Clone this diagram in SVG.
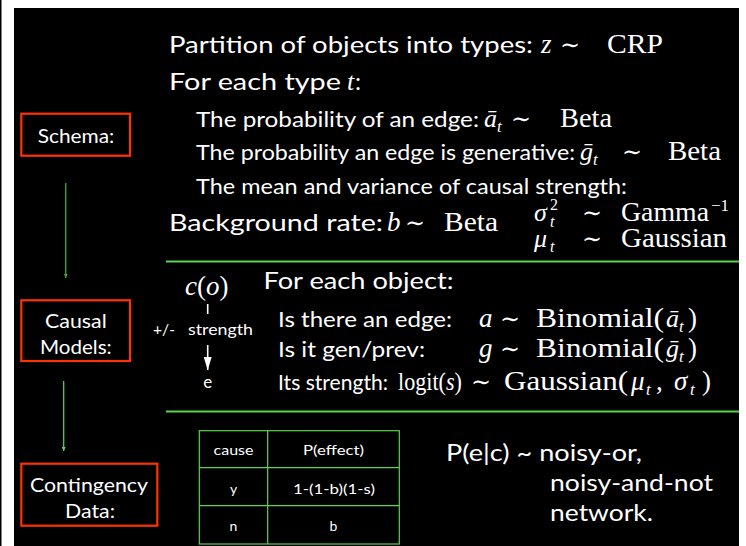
<svg xmlns="http://www.w3.org/2000/svg" width="746" height="546" viewBox="0 0 746 546">
<style>
.s{font-family:Lato,"Open Sans","DejaVu Sans",sans-serif;fill:#fff}
.m{font-family:"Liberation Serif","DejaVu Serif",serif;fill:#fff}
.i{font-style:italic}
.box{fill:none;stroke:#ff3300;stroke-width:2.2}
.rule{stroke:#5bd34a;stroke-width:2}
.tb{fill:none;stroke:#5bd34a;stroke-width:1.2}
</style>
<defs>
<marker id="ga" viewBox="0 0 6 6" refX="6" refY="3" markerWidth="4" markerHeight="4" orient="auto" markerUnits="userSpaceOnUse">
<path d="M0,0 L6,3 L0,6 Z" fill="context-stroke"/>
</marker>
<marker id="wa" viewBox="0 0 13 8" refX="13" refY="4" markerWidth="13" markerHeight="8" orient="auto" markerUnits="userSpaceOnUse">
<path d="M0,0 L13,4 L0,8 Z" fill="#fff"/>
</marker>
</defs>
<rect width="746" height="546" fill="#fff"/>
<rect x="0" y="0" width="1.5" height="546" fill="#000"/>
<rect x="14" y="8" width="725" height="538" fill="#000"/>

<g id="schema">
<rect class="box" x="21.3" y="113.7" width="108.7" height="42"/>
<text class="s" x="37.7" y="143" font-size="20" textLength="76.6" lengthAdjust="spacingAndGlyphs">Schema:</text>
</g>
<g id="causal-models">
<rect class="box" x="21.3" y="300.3" width="108.7" height="60.7"/>
<text class="s" x="45" y="328" font-size="20" textLength="61.7" lengthAdjust="spacingAndGlyphs">Causal</text>
<text class="s" x="40" y="354" font-size="20" textLength="71.7" lengthAdjust="spacingAndGlyphs">Models:</text>
</g>
<g id="contingency-data">
<rect class="box" x="21.3" y="463.7" width="136" height="62"/>
<text class="s" x="30" y="492" font-size="20" textLength="118" lengthAdjust="spacingAndGlyphs">Contingency</text>
<text class="s" x="65" y="518" font-size="20" textLength="50" lengthAdjust="spacingAndGlyphs">Data:</text>
</g>

<g id="connectors">
<line x1="65.7" y1="183" x2="65.7" y2="278" stroke="#3a9a3a" stroke-width="1.5" marker-end="url(#ga)"/>
<line x1="63.7" y1="381" x2="63.7" y2="451" stroke="#55dd55" stroke-width="1.2" marker-end="url(#ga)"/>
<line x1="207.7" y1="304" x2="207.7" y2="314" stroke="#fff" stroke-width="1.6"/>
<line x1="207.7" y1="345" x2="207.7" y2="370" stroke="#fff" stroke-width="1.6" marker-end="url(#wa)"/>
</g>

<!-- Schema section -->
<text class="s" x="169" y="53" font-size="24" textLength="364" lengthAdjust="spacingAndGlyphs">Partition of objects into types:</text>
<text class="m i" x="541" y="53" font-size="27">z</text>
<text class="m" x="560" y="53" font-size="24">∼</text>
<text class="m" x="607" y="53" font-size="28" textLength="56" lengthAdjust="spacingAndGlyphs">CRP</text>

<text class="s" x="169" y="90" font-size="24" textLength="172" lengthAdjust="spacingAndGlyphs">For each type</text>
<text class="m i" x="347" y="90" font-size="26">t</text>
<text class="s" x="355" y="90" font-size="24">:</text>

<text class="s" x="196" y="127" font-size="21" textLength="283" lengthAdjust="spacingAndGlyphs">The probability of an edge:</text>
<text class="m i" x="484" y="127" font-size="26">ā</text>
<text class="m i" x="497" y="132" font-size="17">t</text>
<text class="m" x="511" y="127" font-size="24">∼</text>
<text class="m" x="560" y="127" font-size="27" textLength="52" lengthAdjust="spacingAndGlyphs">Beta</text>

<text class="s" x="196" y="160" font-size="21" textLength="379" lengthAdjust="spacingAndGlyphs">The probability an edge is generative:</text>
<text class="m i" x="580" y="160" font-size="26">ḡ</text>
<text class="m i" x="593" y="165" font-size="17">t</text>
<text class="m" x="622" y="160" font-size="24">∼</text>
<text class="m" x="668" y="160" font-size="27" textLength="53" lengthAdjust="spacingAndGlyphs">Beta</text>

<text class="s" x="196" y="194" font-size="21" textLength="431" lengthAdjust="spacingAndGlyphs">The mean and variance of causal strength:</text>

<text class="s" x="169" y="231" font-size="24" textLength="214" lengthAdjust="spacingAndGlyphs">Background rate:</text>
<text class="m i" x="387" y="231" font-size="27">b</text>
<text class="m" x="405" y="231" font-size="24">∼</text>
<text class="m" x="444" y="231" font-size="27" textLength="54" lengthAdjust="spacingAndGlyphs">Beta</text>

<text class="m i" x="534" y="221" font-size="26">σ</text>
<text class="m" x="550" y="210" font-size="16">2</text>
<text class="m i" x="550" y="227" font-size="16">t</text>
<text class="m" x="582" y="221" font-size="24">∼</text>
<text class="m" x="621" y="221" font-size="27" textLength="88" lengthAdjust="spacingAndGlyphs">Gamma</text>
<text class="m" x="711" y="211" font-size="17">−1</text>

<text class="m i" x="534" y="247" font-size="26">μ</text>
<text class="m i" x="550" y="252" font-size="16">t</text>
<text class="m" x="582" y="247" font-size="24">∼</text>
<text class="m" x="621" y="247" font-size="27" textLength="106" lengthAdjust="spacingAndGlyphs">Gaussian</text>

<line class="rule" x1="166" y1="261.5" x2="739" y2="261.5"/>

<!-- Causal models section -->
<text class="m" x="185" y="295" font-size="27"><tspan class="i">c</tspan>(<tspan class="i">o</tspan>)</text>
<text class="s" x="153" y="335" font-size="15" textLength="22" lengthAdjust="spacingAndGlyphs">+/-</text>
<text class="s" x="188" y="335" font-size="15" textLength="65" lengthAdjust="spacingAndGlyphs">strength</text>
<text class="s" x="207.7" y="388" font-size="17" text-anchor="middle">e</text>

<text class="s" x="263.5" y="289" font-size="24" textLength="190" lengthAdjust="spacingAndGlyphs">For each object:</text>

<text class="s" x="278" y="327" font-size="21" textLength="174" lengthAdjust="spacingAndGlyphs">Is there an edge:</text>
<text class="m i" x="479" y="327" font-size="27">a</text>
<text class="m" x="500" y="327" font-size="24">∼</text>
<text class="m" x="536" y="327" font-size="27" textLength="128" lengthAdjust="spacingAndGlyphs">Binomial(</text>
<text class="m i" x="666" y="327" font-size="26">ā</text>
<text class="m i" x="679" y="332" font-size="17">t</text>
<text class="m" x="688" y="327" font-size="27">)</text>

<text class="s" x="278" y="357" font-size="21" textLength="147" lengthAdjust="spacingAndGlyphs">Is it gen/prev:</text>
<text class="m i" x="479" y="357" font-size="27">g</text>
<text class="m" x="500" y="357" font-size="24">∼</text>
<text class="m" x="536" y="357" font-size="27" textLength="128" lengthAdjust="spacingAndGlyphs">Binomial(</text>
<text class="m i" x="666" y="357" font-size="26">ḡ</text>
<text class="m i" x="679" y="362" font-size="17">t</text>
<text class="m" x="688" y="357" font-size="27">)</text>

<text class="s" x="278" y="390" font-size="21" textLength="110" lengthAdjust="spacingAndGlyphs">Its strength:</text>
<text class="m" x="398" y="390" font-size="26" textLength="64" lengthAdjust="spacingAndGlyphs">logit(<tspan class="i">s</tspan>)</text>
<text class="m" x="471" y="390" font-size="24">∼</text>
<text class="m" x="504" y="390" font-size="27" textLength="124" lengthAdjust="spacingAndGlyphs">Gaussian(</text>
<text class="m i" x="631" y="390" font-size="27">μ</text>
<text class="m i" x="646" y="395" font-size="17">t</text>
<text class="m" x="656" y="390" font-size="27">,</text>
<text class="m i" x="674" y="390" font-size="27">σ</text>
<text class="m i" x="690" y="395" font-size="17">t</text>
<text class="m" x="702" y="390" font-size="27">)</text>

<line class="rule" x1="166" y1="411.5" x2="739" y2="411.5"/>

<!-- Contingency data section -->
<rect class="tb" x="199.3" y="430.7" width="200" height="113.3"/>
<line class="tb" x1="199.3" y1="467.7" x2="399.3" y2="467.7"/>
<line class="tb" x1="199.3" y1="505.7" x2="399.3" y2="505.7"/>
<line class="tb" x1="267.7" y1="430.7" x2="267.7" y2="544"/>
<text class="s" x="213.5" y="455" font-size="14" textLength="40" lengthAdjust="spacingAndGlyphs">cause</text>
<text class="s" x="303" y="455" font-size="14" textLength="61" lengthAdjust="spacingAndGlyphs">P(effect)</text>
<text class="s" x="233.5" y="494" font-size="14" text-anchor="middle">y</text>
<text class="s" x="293" y="494" font-size="14" textLength="82" lengthAdjust="spacingAndGlyphs">1-(1-b)(1-s)</text>
<text class="s" x="233.5" y="531" font-size="14" text-anchor="middle">n</text>
<text class="s" x="333.5" y="531" font-size="14" text-anchor="middle">b</text>

<text class="s" x="446" y="461" font-size="24" textLength="196" lengthAdjust="spacingAndGlyphs">P(e|c) ~ noisy-or,</text>
<text class="s" x="550" y="491" font-size="24" textLength="163" lengthAdjust="spacingAndGlyphs">noisy-and-not</text>
<text class="s" x="550" y="521" font-size="24" textLength="103" lengthAdjust="spacingAndGlyphs">network.</text>
</svg>
